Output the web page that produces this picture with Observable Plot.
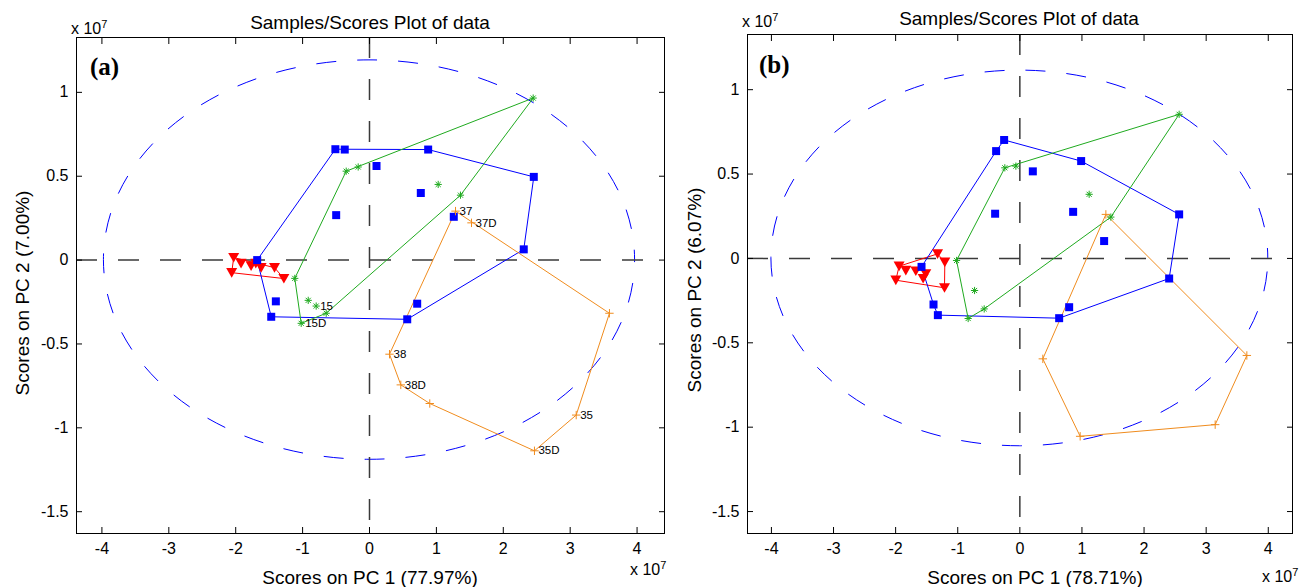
<!DOCTYPE html>
<html><head><meta charset="utf-8">
<script src="https://cdn.jsdelivr.net/npm/d3@7"></script>
<script src="https://cdn.jsdelivr.net/npm/@observablehq/plot@0.6"></script>
<style>
body{margin:0;background:#fff;}
#wrap{position:relative;width:1301px;height:587px;overflow:hidden;font-family:"Liberation Sans",Arial,Helvetica,sans-serif;color:#000;background:#fff;}
.abs{position:absolute;white-space:nowrap;line-height:1;}
.c{transform:translate(-50%,-50%);}
.l{transform:translate(0,-50%);}
.title{font-size:19px;}
.xl{font-size:19px;}
.yl{font-size:19px;transform:translate(-50%,-50%) rotate(-90deg);}
.exp{font-size:16px;}
.exp sup{font-size:11px;vertical-align:6px;}
.tag{font-family:"Liberation Serif","Times New Roman",serif;font-weight:bold;font-size:25px;}
.panel{position:absolute;top:0;}
</style></head><body><div id="wrap"></div>
<script>
// ---- axis limits and ticks ----
const xLimA = [-4.38, 4.41];
const xLimB = [-4.385, 4.39];
const yLim = [-1.63, 1.327];
const xTicks = [-4, -3, -2, -1, 0, 1, 2, 3, 4];
const yTicks = [-1.5, -1, -0.5, 0, 0.5, 1];
// ---- 95% limit ellipse semi-axes ----
const ellipseA = [3.97, 1.19];
const ellipseB = [4.0, 1.113];

// ---- panel (a) ----
const aRedX = [-2.03, -1.92, -1.77, -1.62, -1.42, -2.06, -1.28, -1.70];
const aRedY = [0.015, -0.02, -0.035, -0.045, -0.045, -0.075, -0.11, -0.02];
const aBlueX = [-0.51, -0.37, 0.877, 2.456, 0.105, 0.767, -0.498, 1.26, 2.306, -1.679, -1.40, -1.469, 0.564, 0.713];
const aBlueY = [0.661, 0.659, 0.659, 0.496, 0.561, 0.40, 0.268, 0.258, 0.064, 0.0, -0.246, -0.338, -0.353, -0.26];
const aGreenX = [2.447, -0.348, -0.169, 1.027, 1.36, -1.117, -0.916, -0.797, -0.647, -1.021];
const aGreenY = [0.966, 0.530, 0.555, 0.451, 0.387, -0.109, -0.24, -0.274, -0.317, -0.377];
const aGreenLab = ["", "", "", "", "", "", "", "15", "", "15D"];
const aOrangeX = [1.286, 1.525, 3.587, 3.09, 2.466, 0.901, 0.468, 0.299];
const aOrangeY = [0.292, 0.222, -0.317, -0.924, -1.137, -0.855, -0.744, -0.561];
const aOrangeLab = ["37", "37D", "", "35", "35D", "", "38D", "38"];

// ---- panel (b) ----
const bRedX = [-1.944, -1.325, -1.208, -1.836, -1.675, -1.514, -1.557, -1.997, -1.213];
const bRedY = [-0.046, 0.027, -0.022, -0.071, -0.075, -0.091, -0.119, -0.129, -0.174];
const bBlueX = [-0.253, -0.382, 0.987, 0.209, -0.398, 0.858, 2.565, 1.357, 2.404, -1.583, -1.39, -1.32, 0.633, 0.794];
const bBlueY = [0.702, 0.636, 0.577, 0.516, 0.265, 0.276, 0.261, 0.103, -0.119, -0.050, -0.273, -0.336, -0.354, -0.289];
const bGreenX = [2.565, -0.242, -0.064, 1.116, 1.465, -1.019, -0.729, -0.574, -0.832];
const bGreenY = [0.854, 0.537, 0.547, 0.380, 0.245, -0.012, -0.190, -0.299, -0.356];
const bOrangeX = [1.385, 3.655, 3.145, 0.971, 0.370];
const bOrangeY = [0.261, -0.575, -0.985, -1.054, -0.595];

// ---- texts ----
const titleText = "Samples/Scores Plot of data";
const xLabelA = "Scores on PC 1 (77.97%)";
const xLabelB = "Scores on PC 1 (78.71%)";
const yLabelA = "Scores on PC 2 (7.00%)";
const yLabelB = "Scores on PC 2 (6.07%)";

// ---- colours ----
const cRed = "#ff0000", cBlue = "#0000ff", cGreen = "#1faa1f", cOrange = "#f08c1e";

const rows = (xs, ys, labs) => xs.map((x, i) => ({x, y: ys[i], label: labs ? labs[i] : ""}));

// marker shapes (MATLAB-like)
const symSquare = {draw(c) { const s = 4; c.moveTo(-s, -s); c.lineTo(s, -s); c.lineTo(s, s); c.lineTo(-s, s); c.closePath(); }};
const symTriDown = {draw(c) { c.moveTo(-5.5, -4.6); c.lineTo(5.5, -4.6); c.lineTo(0, 5); c.closePath(); }};
const symAster = {draw(c) { const r = 3.6, d = r * 0.7071;
  c.moveTo(-r, 0); c.lineTo(r, 0); c.moveTo(0, -r); c.lineTo(0, r);
  c.moveTo(-d, -d); c.lineTo(d, d); c.moveTo(-d, d); c.lineTo(d, -d); }};
const symPlus = {draw(c) { const r = 4.2; c.moveTo(-r, 0); c.lineTo(r, 0); c.moveTo(0, -r); c.lineTo(0, r); }};

function ellipseMark(semi) {
  return (index, scales) => {
    const cx = scales.x(0), cy = scales.y(0);
    const rx = scales.x(semi[0]) - cx, ry = cy - scales.y(semi[1]);
    const p = document.createElementNS("http://www.w3.org/2000/svg", "path");
    p.setAttribute("d", `M${cx + rx},${cy}A${rx},${ry} 0 1,0 ${cx - rx},${cy}A${rx},${ry} 0 1,0 ${cx + rx},${cy}`);
    p.setAttribute("fill", "none");
    p.setAttribute("stroke", cBlue);
    p.setAttribute("stroke-width", "1");
    p.setAttribute("stroke-dasharray", "20,21");
    p.setAttribute("stroke-dashoffset", "10");
    return p;
  };
}

function panel(opt) {
  const red = rows(opt.red[0], opt.red[1]);
  const blue = rows(opt.blue[0], opt.blue[1]);
  const green = rows(opt.green[0], opt.green[1], opt.green[2]);
  const orange = rows(opt.orange[0], opt.orange[1], opt.orange[2]);
  const fmt = d => String(d);
  return Plot.plot({
    width: opt.width, height: 587,
    marginLeft: opt.ml, marginRight: opt.mr, marginTop: opt.mt, marginBottom: opt.mb,
    x: {domain: opt.xLim},
    y: {domain: yLim},
    style: {fontFamily: '"Liberation Sans", Arial, Helvetica, sans-serif', fontSize: "16px", background: "transparent", overflow: "visible", color: "#000"},
    marks: [
      ellipseMark(opt.ellipse),
      Plot.ruleX([0], {stroke: "#3a3a3a", strokeWidth: 1.5, strokeDasharray: "21,21"}),
      Plot.ruleY([0], {stroke: "#3a3a3a", strokeWidth: 1.5, strokeDasharray: "21,21"}),
      Plot.hull(red, {x: "x", y: "y", stroke: cRed, strokeWidth: 1}),
      Plot.hull(blue, {x: "x", y: "y", stroke: cBlue, strokeWidth: 1}),
      Plot.hull(green, {x: "x", y: "y", stroke: cGreen, strokeWidth: 1}),
      Plot.hull(orange, {x: "x", y: "y", stroke: cOrange, strokeWidth: 1}),
      Plot.dot(red, {x: "x", y: "y", symbol: symTriDown, fill: cRed, stroke: "none"}),
      Plot.dot(blue, {x: "x", y: "y", symbol: symSquare, fill: cBlue, stroke: "none"}),
      Plot.dot(green, {x: "x", y: "y", symbol: symAster, fill: "none", stroke: cGreen, strokeWidth: 1}),
      Plot.dot(orange, {x: "x", y: "y", symbol: symPlus, fill: "none", stroke: cOrange, strokeWidth: 1}),
      Plot.text(green.concat(orange).filter(d => d.label), {x: "x", y: "y", text: "label", dx: 4, textAnchor: "start", fontSize: 11.5, fill: "#000"}),
      Plot.frame({stroke: "#000", strokeWidth: 1}),
      Plot.axisX(xTicks, {anchor: "bottom", tickSize: -6, tickPadding: 15, tickFormat: fmt, label: null, fontSize: 16}),
      Plot.axisX(xTicks, {anchor: "top", tickSize: -6, tickFormat: () => "", label: null}),
      Plot.axisY(yTicks, {anchor: "left", tickSize: -6, tickPadding: 14, tickFormat: fmt, label: null, fontSize: 16}),
      Plot.axisY(yTicks, {anchor: "right", tickSize: -6, tickFormat: () => "", label: null})
    ]
  });
}

const wrap = document.getElementById("wrap");
function addPanel(svg, left) {
  const d = document.createElement("div");
  d.className = "panel";
  d.style.left = left + "px";
  d.appendChild(svg);
  wrap.appendChild(d);
}
addPanel(panel({width: 680, ml: 76, mr: 16, mt: 37, mb: 54, xLim: xLimA, ellipse: ellipseA,
  red: [aRedX, aRedY], blue: [aBlueX, aBlueY], green: [aGreenX, aGreenY, aGreenLab], orange: [aOrangeX, aOrangeY, aOrangeLab]}), 0);
addPanel(panel({width: 621, ml: 67, mr: 9, mt: 34, mb: 54, xLim: xLimB, ellipse: ellipseB,
  red: [bRedX, bRedY], blue: [bBlueX, bBlueY], green: [bGreenX, bGreenY, null], orange: [bOrangeX, bOrangeY, null]}), 680);

function addText(html, cls, left, top) {
  const d = document.createElement("div");
  d.className = "abs " + cls;
  d.style.left = left + "px";
  d.style.top = top + "px";
  d.innerHTML = html;
  wrap.appendChild(d);
}
const exp = "x 10<sup>7</sup>";
addText(titleText, "title c", 370, 22);
addText(titleText, "title c", 1019, 18);
addText(exp, "exp l", 71, 28);
addText(exp, "exp l", 742, 21);
addText(exp, "exp l", 630, 569);
addText(exp, "exp l", 1262, 576);
addText(xLabelA, "xl c", 370, 577);
addText(xLabelB, "xl c", 1035, 577);
addText(yLabelA, "yl", 22, 293);
addText(yLabelB, "yl", 694, 290);
addText("(a)", "tag l", 90, 66);
addText("(b)", "tag l", 759, 64);
</script></body></html>
